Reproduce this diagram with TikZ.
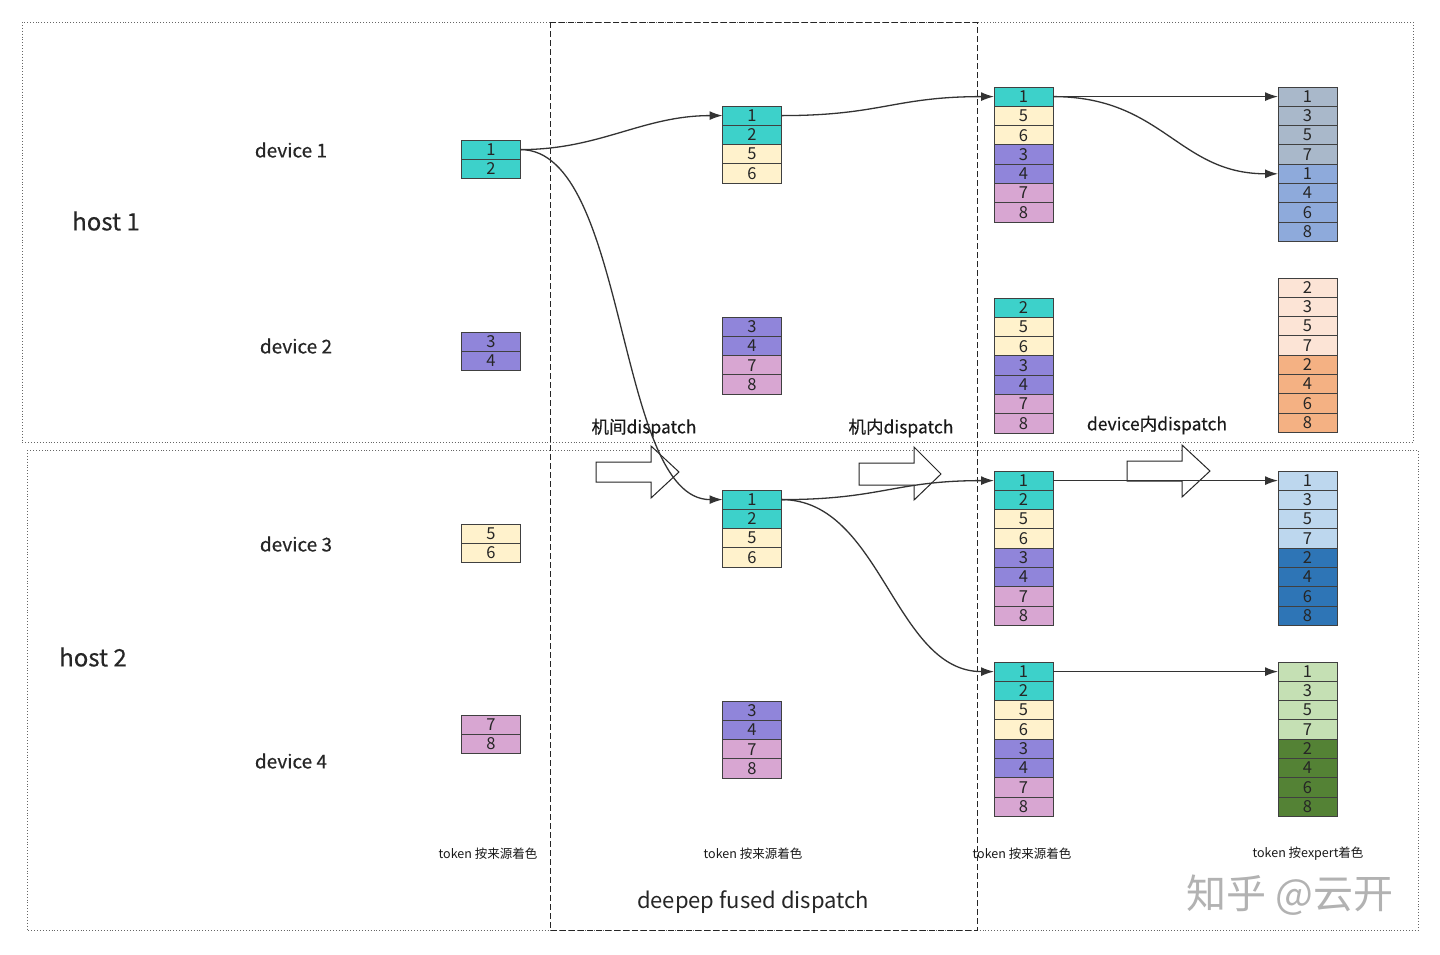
\documentclass[tikz,border=0pt]{standalone}
\usepackage{fontspec}
\setmainfont{Noto Sans CJK SC}
\newfontfamily\medfont{Noto Sans CJK SC}[FakeBold=0.35]
\usepackage{xcolor}
\usetikzlibrary{positioning, arrows.meta}
\definecolor{tokcyan}{HTML}{3DD1CA}
\definecolor{tokyellow}{HTML}{FFF2CC}
\definecolor{tokpurple}{HTML}{9085DA}
\definecolor{tokpink}{HTML}{D8A6D2}
\definecolor{expgray}{HTML}{A9B8CA}
\definecolor{expblue}{HTML}{8EAADB}
\definecolor{exppeach}{HTML}{FCE4D6}
\definecolor{exporange}{HTML}{F4B183}
\definecolor{explight}{HTML}{BDD7EE}
\definecolor{expdark}{HTML}{2E75B6}
\definecolor{expmint}{HTML}{C5E0B4}
\definecolor{expgreen}{HTML}{548235}
\tikzstyle{cell} = [rectangle, draw=black!75, line width=0.9pt, minimum width=59pt, minimum height=19.3pt, inner sep=0pt, outer sep=0pt, text=black!85, font=\fontsize{16.5}{16.5}\selectfont]
\tikzstyle{arrow} = [line width=1.3pt, draw=black!80, -{Latex[length=13pt,width=9pt]}]
\tikzstyle{host} = [draw=black!60, dotted, line width=0.9pt]
\tikzstyle{fused} = [draw=black!85, line width=1pt, dash pattern=on 6pt off 3pt]
\tikzstyle{hollow} = [draw=black!85, fill=white, line width=1pt, line join=miter]
\tikzstyle{hostname} = [font=\medfont\fontsize{24}{24}\selectfont, text=black!85]
\tikzstyle{devname} = [font=\medfont\fontsize{19}{19}\selectfont, text=black!85]
\tikzstyle{phase} = [font=\medfont\fontsize{17.5}{17.5}\selectfont, text=black!90]
\tikzstyle{note} = [font=\fontsize{12.5}{12.5}\selectfont, text=black!90]
\tikzstyle{watermark} = [font=\fontsize{40}{40}\selectfont, text=black!30]

\begin{document}
\begin{tikzpicture}[x=1pt, y=-1pt]
    \useasboundingbox[fill=white] (0,0) rectangle (1440,954);

    % Frames
    \draw[host] (22,22) rectangle (1413,442);
    \draw[host] (27,450) rectangle (1418,930);
    \draw[fused] (550,22) rectangle (977,930);

    % Host and device names
    \node[hostname] (host1) at (106,221) {host 1};
    \node[hostname] (host2) at (93,657) {host 2};
    \node[devname] (dev1) at (291,150) {device 1};
    \node[devname] (dev2) at (296,346) {device 2};
    \node[devname] (dev3) at (296,544) {device 3};
    \node[devname] (dev4) at (291,761) {device 4};

    % Phase arrows
    \node[phase] (inter) at (644,428) {机间dispatch};
    \node[phase] (intra) at (901,428) {机内dispatch};
    \node[phase] (local) at (1157,425) {device内dispatch};
    \draw[hollow, shift={(596,472)}] (0,-10) -- (55,-10) -- (55,-26) -- (83,0) -- (55,26) -- (55,10) -- (0,10) -- cycle;
    \draw[hollow, shift={(859,474)}] (0,-11) -- (55,-11) -- (55,-27) -- (82,0) -- (55,26) -- (55,11) -- (0,11) -- cycle;
    \draw[hollow, shift={(1127,471)}] (0,-10) -- (55,-10) -- (55,-26) -- (83,0) -- (55,26) -- (55,10) -- (0,10) -- cycle;

    % Source tokens
    \node[cell, fill=tokcyan] (p1a) at (491,149.6) {1};
    \node[cell, fill=tokcyan, below=0pt of p1a] (p1b) {2};
    \node[cell, fill=tokpurple] (p2a) at (491,341.6) {3};
    \node[cell, fill=tokpurple, below=0pt of p2a] (p2b) {4};
    \node[cell, fill=tokyellow] (p3a) at (491,533.6) {5};
    \node[cell, fill=tokyellow, below=0pt of p3a] (p3b) {6};
    \node[cell, fill=tokpink] (p4a) at (491,724.6) {7};
    \node[cell, fill=tokpink, below=0pt of p4a] (p4b) {8};

    % After inter-node dispatch
    \node[cell, fill=tokcyan] (q1a) at (752,115.6) {1};
    \node[cell, fill=tokcyan, below=0pt of q1a] (q1b) {2};
    \node[cell, fill=tokyellow, below=0pt of q1b] (q1c) {5};
    \node[cell, fill=tokyellow, below=0pt of q1c] (q1d) {6};
    \node[cell, fill=tokpurple] (q2a) at (752,326.6) {3};
    \node[cell, fill=tokpurple, below=0pt of q2a] (q2b) {4};
    \node[cell, fill=tokpink, below=0pt of q2b] (q2c) {7};
    \node[cell, fill=tokpink, below=0pt of q2c] (q2d) {8};
    \node[cell, fill=tokcyan] (q3a) at (752,499.6) {1};
    \node[cell, fill=tokcyan, below=0pt of q3a] (q3b) {2};
    \node[cell, fill=tokyellow, below=0pt of q3b] (q3c) {5};
    \node[cell, fill=tokyellow, below=0pt of q3c] (q3d) {6};
    \node[cell, fill=tokpurple] (q4a) at (752,710.6) {3};
    \node[cell, fill=tokpurple, below=0pt of q4a] (q4b) {4};
    \node[cell, fill=tokpink, below=0pt of q4b] (q4c) {7};
    \node[cell, fill=tokpink, below=0pt of q4c] (q4d) {8};

    % After intra-node dispatch
    \node[cell, fill=tokcyan] (r1a) at (1023.5,96.6) {1};
    \node[cell, fill=tokyellow, below=0pt of r1a] (r1b) {5};
    \node[cell, fill=tokyellow, below=0pt of r1b] (r1c) {6};
    \node[cell, fill=tokpurple, below=0pt of r1c] (r1d) {3};
    \node[cell, fill=tokpurple, below=0pt of r1d] (r1e) {4};
    \node[cell, fill=tokpink, below=0pt of r1e] (r1f) {7};
    \node[cell, fill=tokpink, below=0pt of r1f] (r1g) {8};
    \node[cell, fill=tokcyan] (r2a) at (1023.5,307.6) {2};
    \node[cell, fill=tokyellow, below=0pt of r2a] (r2b) {5};
    \node[cell, fill=tokyellow, below=0pt of r2b] (r2c) {6};
    \node[cell, fill=tokpurple, below=0pt of r2c] (r2d) {3};
    \node[cell, fill=tokpurple, below=0pt of r2d] (r2e) {4};
    \node[cell, fill=tokpink, below=0pt of r2e] (r2f) {7};
    \node[cell, fill=tokpink, below=0pt of r2f] (r2g) {8};
    \node[cell, fill=tokcyan] (r3a) at (1023.5,480.6) {1};
    \node[cell, fill=tokcyan, below=0pt of r3a] (r3b) {2};
    \node[cell, fill=tokyellow, below=0pt of r3b] (r3c) {5};
    \node[cell, fill=tokyellow, below=0pt of r3c] (r3d) {6};
    \node[cell, fill=tokpurple, below=0pt of r3d] (r3e) {3};
    \node[cell, fill=tokpurple, below=0pt of r3e] (r3f) {4};
    \node[cell, fill=tokpink, below=0pt of r3f] (r3g) {7};
    \node[cell, fill=tokpink, below=0pt of r3g] (r3h) {8};
    \node[cell, fill=tokcyan] (r4a) at (1023.5,671.6) {1};
    \node[cell, fill=tokcyan, below=0pt of r4a] (r4b) {2};
    \node[cell, fill=tokyellow, below=0pt of r4b] (r4c) {5};
    \node[cell, fill=tokyellow, below=0pt of r4c] (r4d) {6};
    \node[cell, fill=tokpurple, below=0pt of r4d] (r4e) {3};
    \node[cell, fill=tokpurple, below=0pt of r4e] (r4f) {4};
    \node[cell, fill=tokpink, below=0pt of r4f] (r4g) {7};
    \node[cell, fill=tokpink, below=0pt of r4g] (r4h) {8};

    % After device-local dispatch (coloured by expert)
    \node[cell, fill=expgray] (t1a) at (1307.5,96.6) {1};
    \node[cell, fill=expgray, below=0pt of t1a] (t1b) {3};
    \node[cell, fill=expgray, below=0pt of t1b] (t1c) {5};
    \node[cell, fill=expgray, below=0pt of t1c] (t1d) {7};
    \node[cell, fill=expblue, below=0pt of t1d] (t1e) {1};
    \node[cell, fill=expblue, below=0pt of t1e] (t1f) {4};
    \node[cell, fill=expblue, below=0pt of t1f] (t1g) {6};
    \node[cell, fill=expblue, below=0pt of t1g] (t1h) {8};
    \node[cell, fill=exppeach] (t2a) at (1307.5,287.6) {2};
    \node[cell, fill=exppeach, below=0pt of t2a] (t2b) {3};
    \node[cell, fill=exppeach, below=0pt of t2b] (t2c) {5};
    \node[cell, fill=exppeach, below=0pt of t2c] (t2d) {7};
    \node[cell, fill=exporange, below=0pt of t2d] (t2e) {2};
    \node[cell, fill=exporange, below=0pt of t2e] (t2f) {4};
    \node[cell, fill=exporange, below=0pt of t2f] (t2g) {6};
    \node[cell, fill=exporange, below=0pt of t2g] (t2h) {8};
    \node[cell, fill=explight] (t3a) at (1307.5,480.6) {1};
    \node[cell, fill=explight, below=0pt of t3a] (t3b) {3};
    \node[cell, fill=explight, below=0pt of t3b] (t3c) {5};
    \node[cell, fill=explight, below=0pt of t3c] (t3d) {7};
    \node[cell, fill=expdark, below=0pt of t3d] (t3e) {2};
    \node[cell, fill=expdark, below=0pt of t3e] (t3f) {4};
    \node[cell, fill=expdark, below=0pt of t3f] (t3g) {6};
    \node[cell, fill=expdark, below=0pt of t3g] (t3h) {8};
    \node[cell, fill=expmint] (t4a) at (1307.5,671.6) {1};
    \node[cell, fill=expmint, below=0pt of t4a] (t4b) {3};
    \node[cell, fill=expmint, below=0pt of t4b] (t4c) {5};
    \node[cell, fill=expmint, below=0pt of t4c] (t4d) {7};
    \node[cell, fill=expgreen, below=0pt of t4d] (t4e) {2};
    \node[cell, fill=expgreen, below=0pt of t4e] (t4f) {4};
    \node[cell, fill=expgreen, below=0pt of t4f] (t4g) {6};
    \node[cell, fill=expgreen, below=0pt of t4g] (t4h) {8};

    % Connectors
    \draw[arrow] (p1a.east) .. controls +(80,0) and +(-80,0) .. (q1a.west);
    \draw[arrow] (p1a.east) .. controls +(108,0) and +(-107,0) .. (q3a.west);
    \draw[arrow] (q1a.east) .. controls +(100,0) and +(-100,0) .. (r1a.west);
    \draw[arrow] (r1a.east) -- (t1a.west);
    \draw[arrow] (r1a.east) .. controls +(110,0) and +(-100,0) .. (t1e.west);
    \draw[arrow] (q3a.east) .. controls +(100,0) and +(-100,0) .. (r3a.west);
    \draw[arrow] (q3a.east) .. controls +(100,0) and +(-100,0) .. (r4a.west);
    \draw[arrow] (r3a.east) -- (t3a.west);
    \draw[arrow] (r4a.east) -- (t4a.west);

    % Notes
    \node[note] (note1) at (488,854) {token 按来源着色};
    \node[note] (note2) at (753,854) {token 按来源着色};
    \node[note] (note3) at (1022,854) {token 按来源着色};
    \node[note] (note4) at (1308,854) {token 按expert着色};
    \node[font=\fontsize{22}{22}\selectfont, text=black!85] (fusedname) at (753,902) {deepep fused dispatch};
    \node[watermark] (mark1) at (1290,895) {知乎 @云开};

\end{tikzpicture}
\end{document}
